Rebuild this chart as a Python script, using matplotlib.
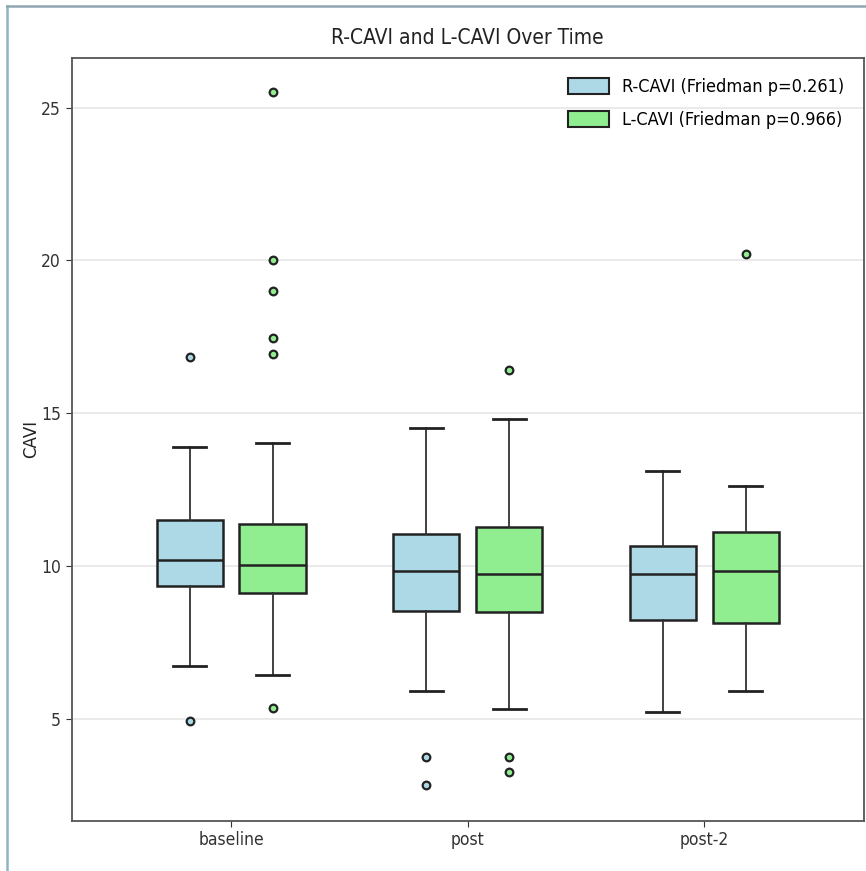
import numpy as np
import matplotlib.pyplot as plt
from matplotlib.patches import Patch
from matplotlib.lines import Line2D

# %% data
times = ["baseline", "post", "post-2"]

r_whislo = [6.73, 5.92, 5.22]
r_q1 = [9.33, 8.51, 8.22]
r_med = [10.18, 9.82, 9.74]
r_q3 = [11.51, 11.05, 10.64]
r_whishi = [13.91, 14.52, 13.12]
r_fliers = [[16.83, 4.91], [3.75, 2.84], []]

l_whislo = [6.44, 5.32, 5.92]
l_q1 = [9.11, 8.48, 8.13]
l_med = [10.02, 9.74, 9.82]
l_q3 = [11.37, 11.26, 11.11]
l_whishi = [14.02, 14.82, 12.63]
l_fliers = [[25.5, 20.0, 19.0, 17.45, 16.95, 5.35], [16.42, 3.75, 3.24], [20.21]]

r_label = "R-CAVI (Friedman p=0.261)"
l_label = "L-CAVI (Friedman p=0.966)"


def make_stats(lo, q1, med, q3, hi, fl):
    return [dict(whislo=a, q1=b, med=c, q3=d, whishi=e, fliers=f)
            for a, b, c, d, e, f in zip(lo, q1, med, q3, hi, fl)]


r_stats = make_stats(r_whislo, r_q1, r_med, r_q3, r_whishi, r_fliers)
l_stats = make_stats(l_whislo, l_q1, l_med, l_q3, l_whishi, l_fliers)

# %% plot
plt.rcParams['font.family'] = ['DejaVu Sans']
plt.rcParams['font.stretch'] = 'condensed'
fig = plt.figure(figsize=(8.66, 8.71), dpi=100)
ax = fig.add_axes([0.0826, 0.0577, 0.9151, 0.8761])

x = np.arange(len(times))
off = 0.175
w = 0.28
edge = '#222222'


def draw(stats, pos, color):
    ax.bxp(stats, positions=pos, widths=w, patch_artist=True, manage_ticks=False,
           boxprops=dict(facecolor=color, edgecolor=edge, linewidth=1.8),
           medianprops=dict(color=edge, linewidth=1.8),
           whiskerprops=dict(color='#333333', linewidth=1.3),
           capprops=dict(color=edge, linewidth=2.0),
           flierprops=dict(marker='o', markerfacecolor=color, markeredgecolor=edge,
                           markersize=5.5, markeredgewidth=1.6))


draw(r_stats, x - off, 'lightblue')
draw(l_stats, x + off, 'lightgreen')

ax.set_xlim(-0.675, 2.675)
ax.set_ylim(1.66, 26.64)
ax.set_xticks(x)
ax.set_xticklabels(times, fontsize=12.5)
ax.set_yticks([5, 10, 15, 20, 25])
ax.tick_params(axis='y', labelsize=12.5)
ax.tick_params(colors='#333333', length=4)
ax.yaxis.grid(True, color='#e6e6e6', linewidth=1.2)
ax.set_axisbelow(True)
for s in ax.spines.values():
    s.set_color('#555555')
    s.set_linewidth(1.3)

ax.set_ylabel("CAVI", fontsize=12, color='#222222', labelpad=1, fontstretch='normal')
ax.set_title("R-CAVI and L-CAVI Over Time", fontsize=15, color='#222222', pad=10)

handles = [Patch(facecolor='lightblue', edgecolor=edge, linewidth=1.5, label=r_label),
           Patch(facecolor='lightgreen', edgecolor=edge, linewidth=1.5, label=l_label)]
ax.legend(handles=handles, loc='upper right', frameon=False, fontsize=13,
          handlelength=2.3, handleheight=1.0, handletextpad=0.7,
          borderaxespad=0.7, labelspacing=0.85)

# screenshot frame on left and top
fig.add_artist(Line2D([0.0085, 0.0085], [0, 0.993], color='#8db5c5', linewidth=1.8))
fig.add_artist(Line2D([0.0085, 1.0], [0.993, 0.993], color='#8fa6b2', linewidth=1.8))

fig.savefig("out.png", dpi=100)
